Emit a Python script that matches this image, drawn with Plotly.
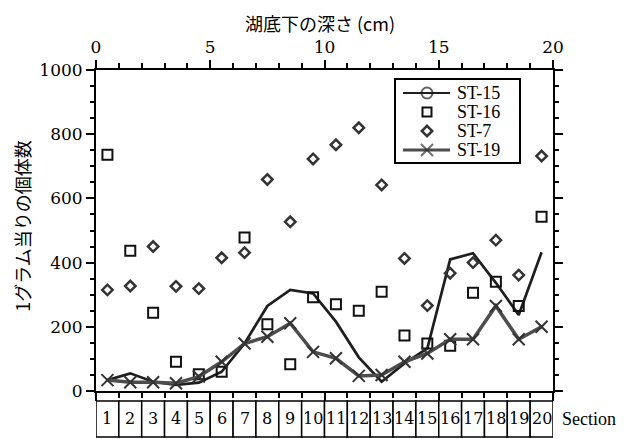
import plotly.graph_objects as go

sections = list(range(1, 21))
st15 = [34, 55, 29, 19, 26, 60, 148, 265, 315, 304, 216, 105, 29, 86, 133, 410, 429, 337, 237, 432]
st16 = [736, 437, 244, 91, 52, 60, 478, 208, 83, 292, 270, 250, 309, 173, 148, 141, 306, 340, 265, 543]
st7 = [315, 327, 450, 326, 319, 415, 431, 659, 527, 723, 767, 820, 642, 413, 266, 367, 400, 470, 361, 732]
st19 = [34, 27, 27, 24, 45, 91, 148, 169, 211, 122, 102, 47, 50, 91, 117, 161, 161, 265, 161, 200]
series_names = ["ST-15", "ST-16", "ST-7", "ST-19"]
depth_ticks = [0, 5, 10, 15, 20]
y_ticks = [0, 200, 400, 600, 800, 1000]

xs = [s - 0.5 for s in sections]
SERIF = "Liberation Serif, Times New Roman, serif"
WSERIF = "DejaVu Serif, serif"
SANS = "Noto Sans CJK JP, Noto Sans, sans-serif"

C15 = "#1e1e1e"
C16 = "#111111"
C7 = "#333333"
C19L = "#4d4d4d"
C19M = "#333333"

st15_line = dict(color=C15, width=2.7)
st15_marker = dict(symbol="circle-open", color=C15, line=dict(width=2))
st16_marker = dict(symbol="square-open", size=10, color=C16, line=dict(width=2))
st7_marker = dict(symbol="diamond-open", size=8, color=C7, line=dict(width=2.5))
st19_line = dict(color=C19L, width=3.5)
st19_marker = dict(symbol="x-thin-open", size=12, color=C19M, line=dict(width=2))

fig = go.Figure()
fig.add_trace(go.Scatter(x=xs, y=st15, mode="lines", line=st15_line, showlegend=False))
fig.add_trace(go.Scatter(x=xs, y=st16, mode="markers", marker=st16_marker, showlegend=False))
fig.add_trace(go.Scatter(x=xs, y=st7, mode="markers", marker=st7_marker, showlegend=False))
fig.add_trace(go.Scatter(x=xs, y=st19, mode="lines+markers", line=st19_line, marker=st19_marker,
                         showlegend=False))

# ---- hand-drawn legend on an overlay axis measured in page pixels ----
lg_left, lg_right, lg_top, lg_bottom = 395, 520, 79, 163
row_y = [93, 112, 131, 150]
sym_x0, sym_xm, sym_x1, text_x = 403, 427, 450, 455
fig.add_trace(go.Scatter(x=[sym_x0, sym_xm, sym_x1], y=[row_y[0]] * 3, mode="lines+markers",
                         line=dict(color=C15, width=2),
                         marker=dict(st15_marker, size=[0, 11, 0]),
                         xaxis="x2", yaxis="y2", showlegend=False, hoverinfo="skip"))
fig.add_trace(go.Scatter(x=[sym_xm], y=[row_y[1]], mode="markers", marker=dict(st16_marker, size=9),
                         xaxis="x2", yaxis="y2", showlegend=False, hoverinfo="skip"))
fig.add_trace(go.Scatter(x=[sym_xm], y=[row_y[2]], mode="markers", marker=st7_marker,
                         xaxis="x2", yaxis="y2", showlegend=False, hoverinfo="skip"))
fig.add_trace(go.Scatter(x=[sym_x0, sym_xm, sym_x1], y=[row_y[3]] * 3, mode="lines+markers",
                         line=dict(color=C19L, width=3),
                         marker=dict(st19_marker, size=[0, 12, 0]),
                         xaxis="x2", yaxis="y2", showlegend=False, hoverinfo="skip"))

shapes = [dict(type="rect", xref="x2", yref="y2", x0=lg_left, x1=lg_right, y0=lg_top, y1=lg_bottom,
               line=dict(color="black", width=2), fillcolor="white", layer="below")]
annotations = []
for name, ry in zip(series_names, row_y):
    annotations.append(dict(x=text_x, y=ry, xref="x2", yref="y2", text=name, showarrow=False,
                            font=dict(family=SERIF, size=18, color="black"), xanchor="left",
                            yanchor="middle"))

# ---- section boxes below the plot ----
for s in sections:
    shapes.append(dict(type="rect", xref="x", yref="paper", x0=s - 1, x1=s, y0=-0.143, y1=-0.031,
                       line=dict(color="black", width=1.5), fillcolor="white"))
    annotations.append(dict(x=s - 0.5, y=-0.087, xref="x", yref="paper", text=str(s), showarrow=False,
                            font=dict(family=WSERIF, size=16, color="black"), xanchor="center",
                            yanchor="middle"))
annotations.append(dict(x=1.015, y=-0.087, xref="paper", yref="paper", text="Section", showarrow=False,
                        font=dict(family=SERIF, size=18, color="black"), xanchor="left", yanchor="middle"))

# ---- axis titles ----
annotations.append(dict(x=0.49, y=1, xref="paper", yref="paper", yshift=61, text="湖底下の深さ (cm)",
                        showarrow=False, font=dict(family=SANS, size=18, color="black"),
                        xanchor="center", yanchor="top", borderpad=0))
annotations.append(dict(x=0, y=0.512, xref="paper", yref="paper", xshift=-74, text="1グラム当りの個体数",
                        textangle=-90, showarrow=False, font=dict(family=SANS, size=18, color="black"),
                        xanchor="center", yanchor="middle"))

fig.update_layout(
    width=626, height=431,
    margin=dict(l=88, r=81, t=62, b=48),
    paper_bgcolor="white", plot_bgcolor="white",
    shapes=shapes, annotations=annotations,
    showlegend=False,
    xaxis=dict(range=[0, 20], side="top", tickvals=depth_ticks, ticks="outside", ticklen=8,
               tickwidth=2, tickcolor="black", showline=True, linewidth=2, linecolor="black",
               mirror="allticks", showgrid=False, zeroline=False,
               minor=dict(dtick=1, ticks="outside", ticklen=5, tickwidth=2, tickcolor="black"),
               tickfont=dict(family=WSERIF, size=17, color="black")),
    yaxis=dict(range=[0, 1000], tickvals=y_ticks, ticks="outside", ticklen=8, tickwidth=2,
               tickcolor="black", showline=True, linewidth=2, linecolor="black", mirror="allticks",
               showgrid=False, zeroline=False,
               minor=dict(dtick=50, ticks="outside", ticklen=4, tickwidth=1.5, tickcolor="black"),
               tickfont=dict(family=WSERIF, size=17, color="black")),
    xaxis2=dict(range=[96, 553], overlaying="x", visible=False, fixedrange=True),
    yaxis2=dict(range=[391, 70], overlaying="y", visible=False, fixedrange=True),
)

fig.write_html("out.html")
